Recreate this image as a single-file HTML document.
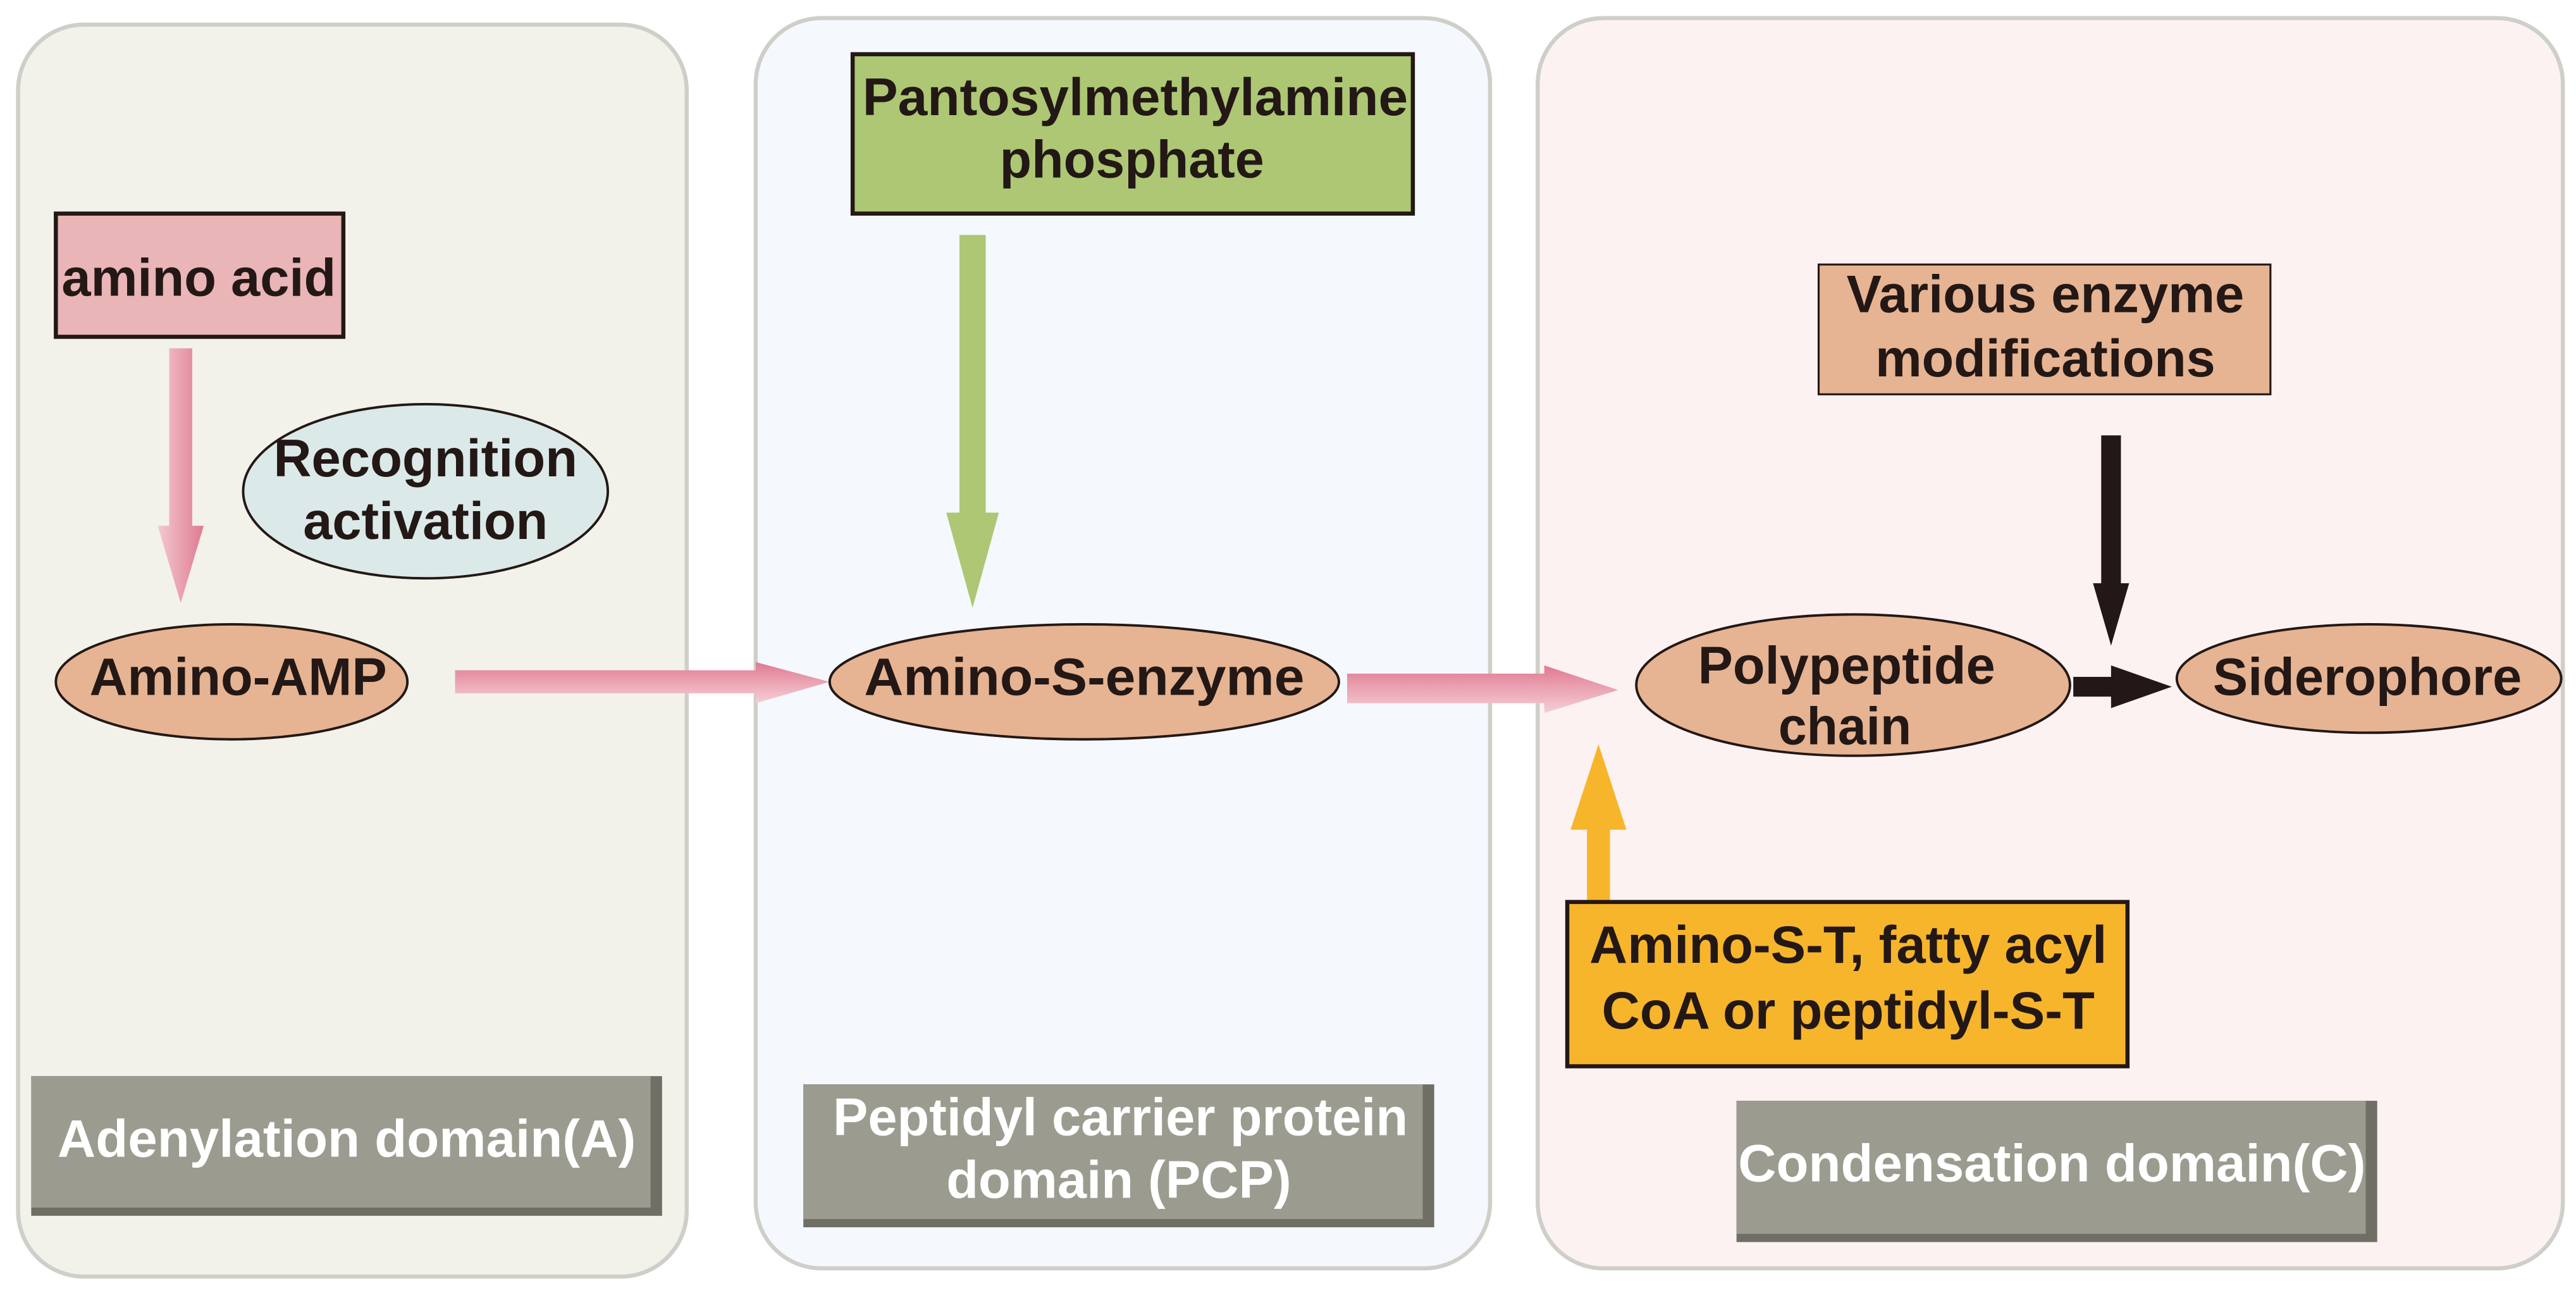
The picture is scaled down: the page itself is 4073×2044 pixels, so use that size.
<!DOCTYPE html>
<html><head><meta charset="utf-8"><style>
html,body{margin:0;padding:0;background:#fff;}
svg{display:block;}
text{font-family:"Liberation Sans",Arial,sans-serif;font-weight:bold;}
</style></head><body>
<svg width="4073" height="2044" viewBox="0 0 1568 787" preserveAspectRatio="none" xmlns="http://www.w3.org/2000/svg">
<defs>
<linearGradient id="pv" x1="0" y1="0" x2="1" y2="0"><stop offset="0" stop-color="#f2c9d0"/><stop offset="1" stop-color="#e07a91"/></linearGradient>
<linearGradient id="ph" x1="0" y1="0" x2="0" y2="1"><stop offset="0" stop-color="#e07a91"/><stop offset="1" stop-color="#f5cfd6"/></linearGradient>
</defs>
<rect x="0" y="0" width="1568" height="787" fill="#fff"/>
<rect x="11" y="15" width="407" height="762" rx="40" fill="#f2f2ea" stroke="#cfcfca" stroke-width="2.5"/>
<rect x="460" y="11" width="447" height="761" rx="40" fill="#f5f8fd" stroke="#cfcfca" stroke-width="2.5"/>
<rect x="936" y="11" width="624" height="761" rx="40" fill="#fdf2f2" stroke="#cfcfca" stroke-width="2.5"/>

<g fill="#231815" font-size="32" text-anchor="middle">
<rect x="34" y="130" width="175" height="75" fill="#e9b5b7" stroke="#231815" stroke-width="2.5"/>
<text x="121" y="180" textLength="167" lengthAdjust="spacingAndGlyphs">amino acid</text>
<polygon points="103,212 117,212 117,320 124,320 110,367 96,320 103,320" fill="url(#pv)"/>
<ellipse cx="259" cy="299" rx="111" ry="53" fill="#dbe9e8" stroke="#231815" stroke-width="1.5"/>
<text x="259" y="290" textLength="185" lengthAdjust="spacingAndGlyphs">Recognition</text>
<text x="259" y="328" textLength="149" lengthAdjust="spacingAndGlyphs">activation</text>
<ellipse cx="141" cy="415" rx="107" ry="35" fill="#e6b493" stroke="#231815" stroke-width="1.5"/>
<text x="145" y="423" textLength="181" lengthAdjust="spacingAndGlyphs">Amino-AMP</text>
<polygon points="277,408 460,408 460,403 505,415 460,428 460,422 277,422" fill="url(#ph)"/>

<rect x="519" y="33" width="341" height="97" fill="#adc774" stroke="#231815" stroke-width="2.5"/>
<text x="691" y="70" textLength="332" lengthAdjust="spacingAndGlyphs">Pantosylmethylamine</text>
<text x="689" y="108" textLength="161" lengthAdjust="spacingAndGlyphs">phosphate</text>
<polygon points="584,143 600,143 600,312 608,312 592,370 576,312 584,312" fill="#adc774"/>
<ellipse cx="660" cy="415" rx="155" ry="35" fill="#e6b493" stroke="#231815" stroke-width="1.5"/>
<text x="660" y="423" textLength="268" lengthAdjust="spacingAndGlyphs">Amino-S-enzyme</text>
<polygon points="820,410 940,410 940,405 985,420 940,434 940,428 820,428" fill="url(#ph)"/>

<rect x="1107" y="161" width="275" height="79" fill="#e6b493" stroke="#231815" stroke-width="1.2"/>
<text x="1245" y="190" textLength="242" lengthAdjust="spacingAndGlyphs">Various enzyme</text>
<text x="1245" y="229" textLength="207" lengthAdjust="spacingAndGlyphs">modifications</text>
<polygon points="1279,265 1291,265 1291,355 1296,355 1285,393 1274,355 1279,355" fill="#231815"/>
<ellipse cx="1128" cy="417" rx="132" ry="43" fill="#e6b493" stroke="#231815" stroke-width="1.5"/>
<text x="1124" y="416" textLength="181" lengthAdjust="spacingAndGlyphs">Polypeptide</text>
<text x="1123" y="453" textLength="81" lengthAdjust="spacingAndGlyphs">chain</text>
<polygon points="1262,412 1285,412 1285,405 1322,418 1285,431 1285,424 1262,424" fill="#231815"/>
<ellipse cx="1442" cy="413" rx="117" ry="33" fill="#e6b493" stroke="#231815" stroke-width="1.5"/>
<text x="1441" y="423" textLength="188" lengthAdjust="spacingAndGlyphs">Siderophore</text>
<polygon points="966,548 980,548 980,505 990,505 973,453 956,505 966,505" fill="#f7b52c"/>
<rect x="954" y="549" width="341" height="100" fill="#f7b52c" stroke="#231815" stroke-width="2.5"/>
<text x="1125" y="586" textLength="315" lengthAdjust="spacingAndGlyphs">Amino-S-T, fatty acyl</text>
<text x="1125" y="626" textLength="300" lengthAdjust="spacingAndGlyphs">CoA or peptidyl-S-T</text>
</g>

<g fill="#fff" font-size="32" text-anchor="middle">
<rect x="19" y="655" width="384" height="85" fill="#6f6f66"/>
<rect x="19" y="655" width="377" height="80" fill="#9b9b8f"/>
<text x="211" y="704" textLength="352" lengthAdjust="spacingAndGlyphs">Adenylation domain(A)</text>

<rect x="489" y="660" width="384" height="87" fill="#6f6f66"/>
<rect x="489" y="660" width="377" height="82" fill="#9b9b8f"/>
<text x="682" y="691" textLength="350" lengthAdjust="spacingAndGlyphs">Peptidyl carrier protein</text>
<text x="681" y="729" textLength="210" lengthAdjust="spacingAndGlyphs">domain (PCP)</text>

<rect x="1057" y="670" width="390" height="86" fill="#6f6f66"/>
<rect x="1057" y="670" width="383" height="81" fill="#9b9b8f"/>
<text x="1249" y="719" textLength="382" lengthAdjust="spacingAndGlyphs">Condensation domain(C)</text>
</g>
</svg>
</body></html>
